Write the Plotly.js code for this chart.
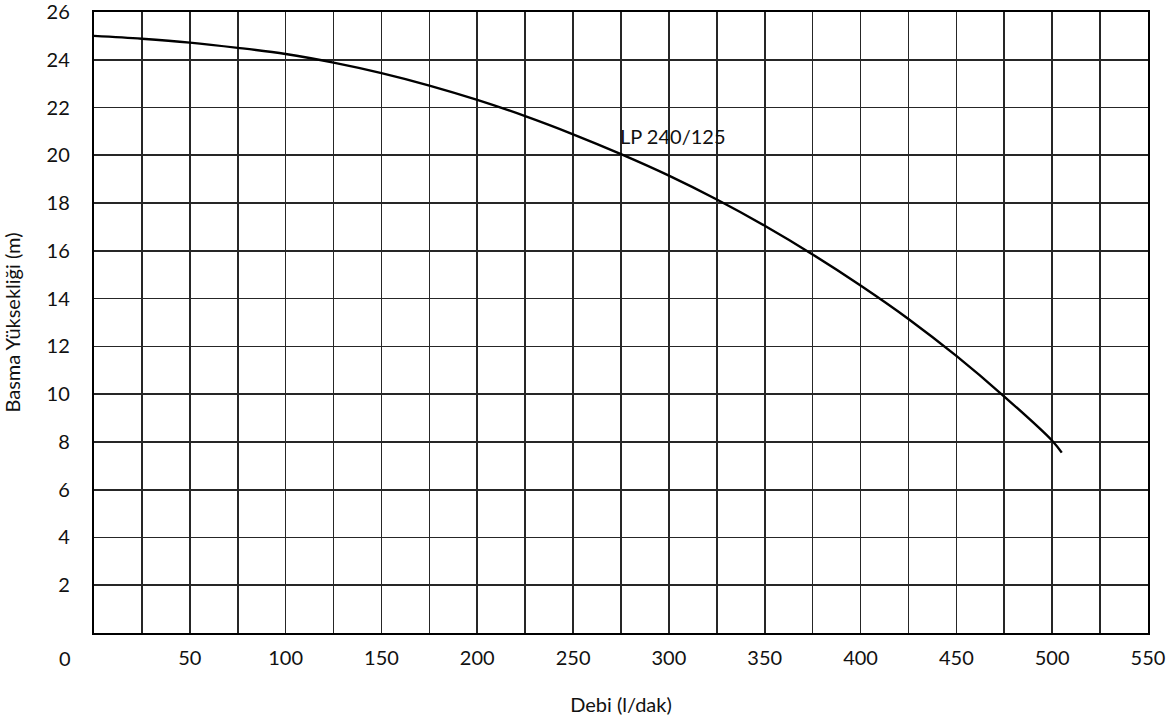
<!DOCTYPE html>
<html>
<head>
<meta charset="utf-8">
<script src="https://cdn.plot.ly/plotly-3.0.1.min.js"></script>
<style>
  html, body { margin: 0; padding: 0; background: #fff; }
  #chart { width: 1175px; height: 716px; }
</style>
</head>
<body>
<div id="chart"></div>
<script>
// Pump curve LP 240/125 : flow (l/dak) vs head (m)
const flow = [0, 25, 50, 75, 100, 125, 150, 175, 200, 225, 250, 275, 300, 325, 350, 375, 400, 425, 450, 475, 500, 505];
const head = [25.0, 24.88, 24.72, 24.5, 24.24, 23.88, 23.44, 22.92, 22.32, 21.64, 20.88, 20.05, 19.15, 18.15, 17.05, 15.85, 14.55, 13.15, 11.6, 9.9, 8.05, 7.55];
const seriesName = "LP 240/125";

const xTickVals = [25, 50, 75, 100, 125, 150, 175, 200, 225, 250, 275, 300, 325, 350, 375, 400, 425, 450, 475, 500, 525, 550];
const xTickText = ["", "50", "", "100", "", "150", "", "200", "", "250", "", "300", "", "350", "", "400", "", "450", "", "500", "", "550"];
const yTickVals = [2, 4, 6, 8, 10, 12, 14, 16, 18, 20, 22, 24, 26];
const yTickText = ["2", "4", "6", "8", "10", "12", "14", "16", "18", "20", "22", "24", "26"];
const zeroLabel = "0";
const xTitle = "Debi (l/dak)";
const yTitle = "Basma Yüksekliği (m)";

const FONT = "Lato, 'Open Sans', sans-serif";
const GRID = "#262626";

const trace = {
  x: flow,
  y: head,
  type: "scatter",
  mode: "lines",
  name: seriesName,
  line: { color: "#000", width: 2.4, shape: "spline", smoothing: 1 },
  hoverinfo: "x+y",
  showlegend: false
};

const layout = {
  width: 1175,
  height: 716,
  margin: { l: 94, r: 27, t: 12, b: 83, pad: 0 },
  paper_bgcolor: "#fff",
  plot_bgcolor: "#fff",
  font: { family: FONT, size: 20, color: "#111" },
  showlegend: false,
  xaxis: {
    range: [0, 550],
    tickmode: "array",
    tickvals: xTickVals,
    ticktext: xTickText,
    ticks: "",
    showgrid: true,
    gridcolor: GRID,
    gridwidth: 1.7,
    zeroline: false,
    showline: true,
    linecolor: "#000",
    linewidth: 2.2,
    mirror: true,
    ticklabelstandoff: 6,
    ticklabeloverflow: "allow",
    tickfont: { family: FONT, size: 20, color: "#111" },
    title: { text: xTitle, font: { family: FONT, size: 20, color: "#111" }, standoff: 30 }
  },
  yaxis: {
    range: [0, 26],
    tickmode: "array",
    tickvals: yTickVals,
    ticktext: yTickText,
    ticks: "",
    showgrid: true,
    gridcolor: GRID,
    gridwidth: 1.7,
    zeroline: false,
    showline: true,
    linecolor: "#000",
    linewidth: 2.2,
    mirror: true,
    ticklabelstandoff: 18,
    ticklabeloverflow: "allow",
    tickfont: { family: FONT, size: 20, color: "#111" },
    title: { text: yTitle, font: { family: FONT, size: 20, color: "#111" }, standoff: 22 }
  },
  annotations: [
    {
      x: 302, y: 20.8, xref: "x", yref: "y",
      text: seriesName, showarrow: false,
      font: { family: FONT, size: 20, color: "#111" }
    },
    {
      x: -15 / 550, y: -1.06 / 26, xref: "paper", yref: "paper",
      xanchor: "center", yanchor: "middle",
      text: zeroLabel, showarrow: false,
      font: { family: FONT, size: 20, color: "#111" }
    }
  ]
};

Plotly.newPlot("chart", [trace], layout, { displayModeBar: false, staticPlot: true });
</script>
</body>
</html>
